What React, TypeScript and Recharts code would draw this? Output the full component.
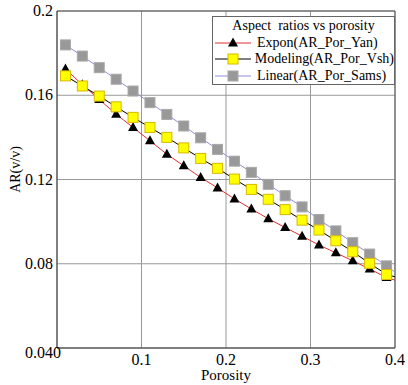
import React from 'react';
import { LineChart, Line, XAxis, YAxis, CartesianGrid, ReferenceLine } from 'recharts';

const porosity = [0.01, 0.03, 0.05, 0.07, 0.09, 0.11, 0.13, 0.15, 0.17, 0.19, 0.21, 0.23, 0.25, 0.27, 0.29, 0.31, 0.33, 0.35, 0.37, 0.39, 0.4];
const expon = [0.1725, 0.165, 0.158, 0.151, 0.1447, 0.1384, 0.132, 0.1265, 0.121, 0.116, 0.1108, 0.106, 0.1014, 0.0972, 0.0931, 0.0889, 0.0852, 0.0814, 0.0775, 0.0735, 0.0722];
const modeling = [0.1692, 0.1644, 0.1596, 0.1545, 0.1495, 0.1447, 0.14, 0.135, 0.13, 0.1253, 0.1202, 0.1153, 0.1106, 0.1057, 0.1007, 0.096, 0.0909, 0.0857, 0.0802, 0.0749, 0.0738];
const linear = [0.1839, 0.1786, 0.1731, 0.1676, 0.162, 0.1565, 0.1509, 0.1454, 0.1398, 0.1343, 0.1287, 0.1234, 0.1177, 0.1123, 0.107, 0.101, 0.0956, 0.09, 0.0846, 0.079, 0.076];
const markerCount = 20;
const xTicks = [0, 0.1, 0.2, 0.3, 0.4];
const yTicks = [0.04, 0.08, 0.12, 0.16, 0.2];
const legendTitle = 'Aspect  ratios vs porosity';
const seriesNames = ['Expon(AR_Por_Yan)', 'Modeling(AR_Por_Vsh)', 'Linear(AR_Por_Sams)'];

const rows = porosity.map((x, i) => ({ x, expon: expon[i], modeling: modeling[i], linear: linear[i], idx: i }));

const FONT = '"Liberation Serif", "Times New Roman", serif';

const Triangle = (props: any) => {
  const { cx, cy, index } = props;
  if (index >= markerCount || cx == null) return <g key={`t${index}`} />;
  return <polygon key={`t${index}`} points={`${cx},${cy - 5.5} ${cx - 5},${cy + 3.5} ${cx + 5},${cy + 3.5}`} fill="#000" />;
};
const makeSquare = (fill: string, stroke: string, pfx: string) => (props: any) => {
  const { cx, cy, index } = props;
  if (index >= markerCount || cx == null) return <g key={`${pfx}${index}`} />;
  return <rect key={`${pfx}${index}`} x={cx - 5} y={cy - 5} width={10} height={10} fill={fill} stroke={stroke} strokeWidth={1} />;
};
const YellowSq = makeSquare('#ffff00', '#d8b800', 'y');
const GraySq = makeSquare('#999999', '#a8a8a8', 'g');

const YTick = (props: any) => {
  const { x, y, payload } = props;
  const dy = payload.value === 0.04 ? 10 : 5;
  return (
    <text x={x} y={y + dy} textAnchor="end" style={{ fontFamily: FONT, fontSize: 16 }} fill="#000">
      {String(payload.value)}
    </text>
  );
};
const XTick = (props: any) => {
  const { x, y, payload } = props;
  const dy = payload.value === 0 ? 8 : 15;
  return (
    <text x={x} y={y + dy} textAnchor="middle" style={{ fontFamily: FONT, fontSize: 16 }} fill="#000">
      {String(payload.value)}
    </text>
  );
};

const XLabel = (props: any) => {
  const { viewBox } = props;
  const cx = viewBox.x + viewBox.width / 2;
  return (
    <text x={cx} y={viewBox.y + viewBox.height + 32} textAnchor="middle" style={{ fontFamily: FONT, fontSize: 15 }} fill="#000">
      Porosity
    </text>
  );
};
const YLabel = (props: any) => {
  const { viewBox } = props;
  const cy = viewBox.y + viewBox.height / 2 - 10;
  const x = 20;
  return (
    <text x={x} y={cy} transform={`rotate(-90 ${x} ${cy})`} textAnchor="middle" style={{ fontFamily: FONT, fontSize: 14 }} fill="#000">
      AR(v/v)
    </text>
  );
};

const LegendRow = ({ kind, label }: { kind: number; label: string }) => {
  const lineColor = kind === 0 ? '#e03030' : kind === 1 ? '#000' : '#8c8ce0';
  return (
    <div style={{ display: 'flex', alignItems: 'center', height: 16.5 }}>
      <svg width={44} height={14} style={{ display: 'block' }}>
        <line x1={2} y1={7} x2={38} y2={7} stroke={lineColor} strokeWidth={1} />
        {kind === 0 && <polygon points="20,1.5 15,10.5 25,10.5" fill="#000" />}
        {kind === 1 && <rect x={15} y={2} width={10} height={10} fill="#ffff00" stroke="#d8b800" />}
        {kind === 2 && <rect x={15} y={2} width={10} height={10} fill="#999" stroke="#a8a8a8" />}
      </svg>
      <span>{label}</span>
    </div>
  );
};

export default function App() {
  return (
    <div style={{ position: 'absolute', left: 0, top: 0, width: 408, height: 385, background: '#fff' }}>
      <LineChart width={408} height={385} data={rows} margin={{ top: 11, right: 13, bottom: 0, left: 0 }}>
        <CartesianGrid stroke="#999" strokeWidth={1} />
        <XAxis
          dataKey="x"
          type="number"
          domain={[0, 0.4]}
          ticks={xTicks}
          height={37}
          tickLine={false}
          tickSize={0}
          axisLine={{ stroke: '#333' }}
          tick={<XTick />}
        />
        <YAxis
          type="number"
          domain={[0.04, 0.2]}
          ticks={yTicks}
          width={57}
          tickLine={false}
          tickSize={0}
          tickMargin={4}
          axisLine={{ stroke: '#333' }}
          tick={<YTick />}
          allowDataOverflow
        />
        <ReferenceLine y={0.2} stroke="#555" />
        <ReferenceLine x={0.4} stroke="#555" />
        <ReferenceLine x={0.2} stroke="none" label={<XLabel />} />
        <ReferenceLine y={0.12} stroke="none" label={<YLabel />} />
        <Line dataKey="linear" stroke="#8c8ce0" strokeWidth={1} dot={GraySq} isAnimationActive={false} />
        <Line dataKey="expon" stroke="#e03030" strokeWidth={1} dot={Triangle} isAnimationActive={false} />
        <Line dataKey="modeling" stroke="#000" strokeWidth={1} dot={YellowSq} isAnimationActive={false} />
      </LineChart>
      <div
        style={{
          position: 'absolute',
          left: 212,
          top: 16,
          width: 183,
          height: 69,
          boxSizing: 'border-box',
          border: '1px solid #666',
          background: '#fff',
          fontFamily: FONT,
          fontSize: 14,
          color: '#000',
          lineHeight: '16px',
        }}
      >
        <div style={{ textAlign: 'center', whiteSpace: 'pre', height: 16.5, paddingTop: 1 }}>{legendTitle}</div>
        {seriesNames.map((n, i) => (
          <LegendRow key={n} kind={i} label={n} />
        ))}
      </div>
    </div>
  );
}
